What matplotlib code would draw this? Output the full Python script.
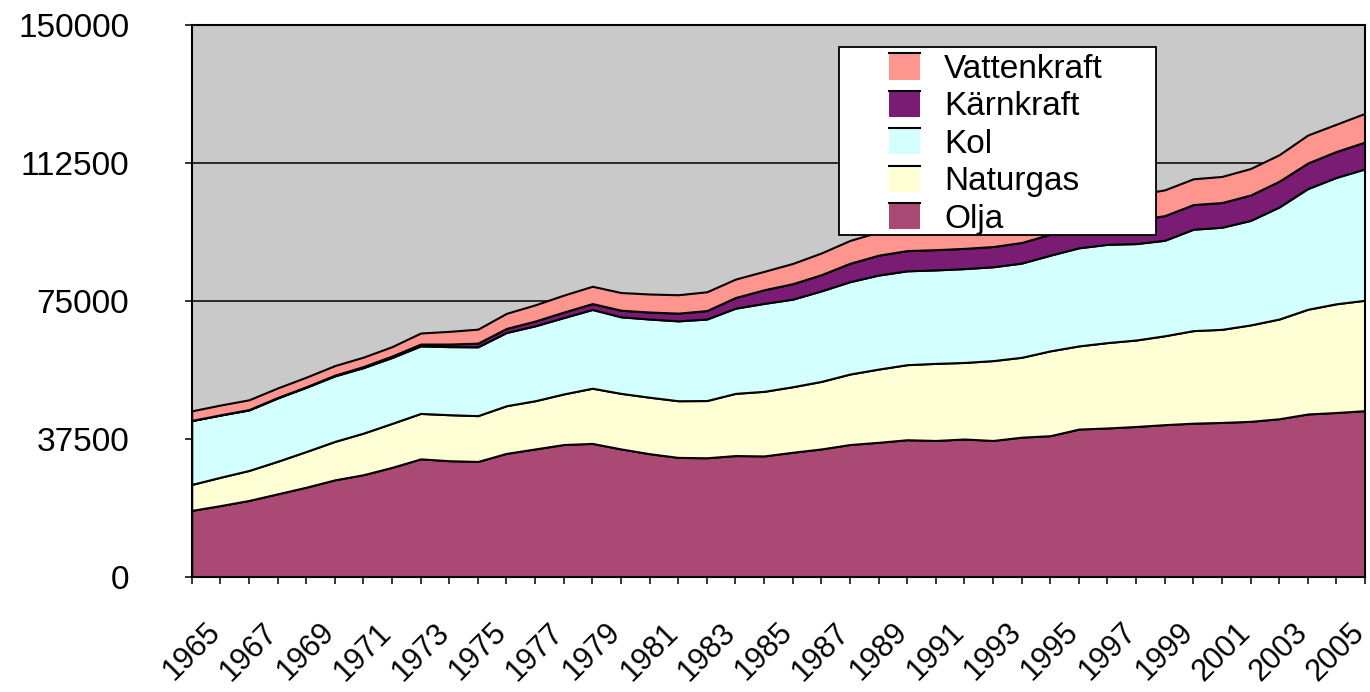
import matplotlib
matplotlib.use('Agg')
import matplotlib.pyplot as plt
from matplotlib.patches import Rectangle, Patch
from matplotlib.lines import Line2D
from matplotlib.legend_handler import HandlerBase

plt.rcParams['font.family'] = ['Liberation Sans', 'DejaVu Sans']

# data: 1965-2006
years = list(range(1965, 2007))
olja = [18100, 19400, 20800, 22600, 24400, 26400, 27800, 29800, 32100, 31600,
        31400, 33600, 34800, 36000, 36300, 34800, 33500, 32500, 32400, 33000,
        32900, 33900, 34800, 36000, 36600, 37300, 37100, 37500, 37100, 38000,
        38400, 40200, 40500, 40900, 41400, 41800, 42000, 42300, 43000, 44300,
        44700, 45200]
naturgas = [7050, 7700, 8150, 8850, 9700, 10450, 11300, 11950, 12350, 12500,
            12450, 12950, 13100, 13750, 15000, 15100, 15350, 15400, 15550, 16900,
            17550, 17800, 18350, 19150, 19900, 20400, 20950, 20800, 21700, 21700,
            23050, 22600, 23200, 23500, 24150, 25150, 25300, 26200, 27100, 28450,
            29550, 30000]
kol = [17350, 16900, 16450, 17200, 17450, 17800, 17800, 17900, 18350, 18500,
       18700, 19900, 20350, 20750, 21400, 20800, 21250, 21700, 22150, 23150,
       23900, 23800, 24600, 25100, 25550, 25500, 25400, 25500, 25500, 25600,
       26000, 26650, 26700, 26200, 25950, 27550, 27750, 28400, 30450, 32800,
       34350, 35700]
karnkraft = [50, 70, 100, 120, 150, 200, 300, 400, 500, 700,
             1000, 1100, 1300, 1500, 1600, 1800, 1900, 2100, 2300, 2900,
             3700, 4200, 4400, 5000, 5400, 5500, 5500, 5500, 5500, 5600,
             5700, 6000, 6200, 6400, 6700, 6700, 6700, 6900, 7000, 6950,
             7050, 7300]
vattenkraft = [2600, 2650, 2650, 2600, 2600, 2600, 2550, 2550, 3000, 3450,
               3800, 4100, 4400, 4600, 4700, 4800, 4900, 5000, 5100, 5000,
               5000, 5500, 5900, 6200, 6300, 6400, 6500, 6500, 6600, 6600,
               6700, 6800, 6900, 6900, 7000, 7000, 7100, 7200, 7200, 7600,
               7400, 7800]

labels = ['Olja', 'Naturgas', 'Kol', 'Kärnkraft', 'Vattenkraft']
colors = ['#a94974', '#ffffd5', '#d3ffff', '#7a1b74', '#ff958f']
yticks = [0, 37500, 75000, 112500, 150000]


class TopLineHandler(HandlerBase):
    # ruta med svart linje överst, som i Excel
    def create_artists(self, legend, orig_handle, xdescent, ydescent,
                       width, height, fontsize, trans):
        r = Rectangle((-xdescent, -ydescent), width, height,
                      facecolor=orig_handle.get_facecolor(), edgecolor='none',
                      transform=trans)
        l = Line2D([-xdescent, -xdescent + width], [height - ydescent] * 2,
                   color='black', lw=1.5, transform=trans)
        return [r, l]


fig = plt.figure(figsize=(13.7, 6.92), dpi=100)
ax = fig.add_axes([191.7 / 1370, 1 - 577 / 692, (1365 - 191.7) / 1370, (577 - 25) / 692])
ax.set_facecolor('#c9c9c9')

ax.stackplot(years, olja, naturgas, kol, karnkraft, vattenkraft,
             colors=colors, edgecolor='black', linewidth=1.5, zorder=2)

ax.set_xlim(years[0], years[-1])
ax.set_ylim(0, 150000)

ax.set_yticks(yticks)
ax.set_yticklabels([str(v) for v in yticks])
ax.yaxis.grid(True, color='black', linewidth=1.1)
ax.set_axisbelow(True)

ax.set_xticks(years)
ax.set_xticklabels([str(y) if (y - 1965) % 2 == 0 else '' for y in years],
                   rotation=45, ha='center')

ax.tick_params(axis='y', direction='out', length=5, width=1.1, pad=40, labelsize=24)
ax.tick_params(axis='x', direction='out', length=5, width=1.1, pad=24, labelsize=22)
for s in ax.spines.values():
    s.set_linewidth(1.5)
    s.set_color('black')
    s.set_zorder(3)

# legend box
box = Rectangle((0.552, 0.6196), 0.2700, 0.3400, transform=ax.transAxes,
                facecolor='white', edgecolor='black', linewidth=1.3, zorder=4)
ax.add_patch(box)

handles = [Patch(facecolor=c) for c in colors][::-1]
leg = ax.legend(handles, labels[::-1], loc='upper left',
                bbox_to_anchor=(0.5946, 0.9487), frameon=False,
                borderpad=0, borderaxespad=0, fontsize=24,
                handlelength=0.92, handleheight=0.84, handletextpad=0.72,
                labelspacing=0.17,
                handler_map={Patch: TopLineHandler()})
leg.set_zorder(5)

fig.savefig('out.png', dpi=100)
